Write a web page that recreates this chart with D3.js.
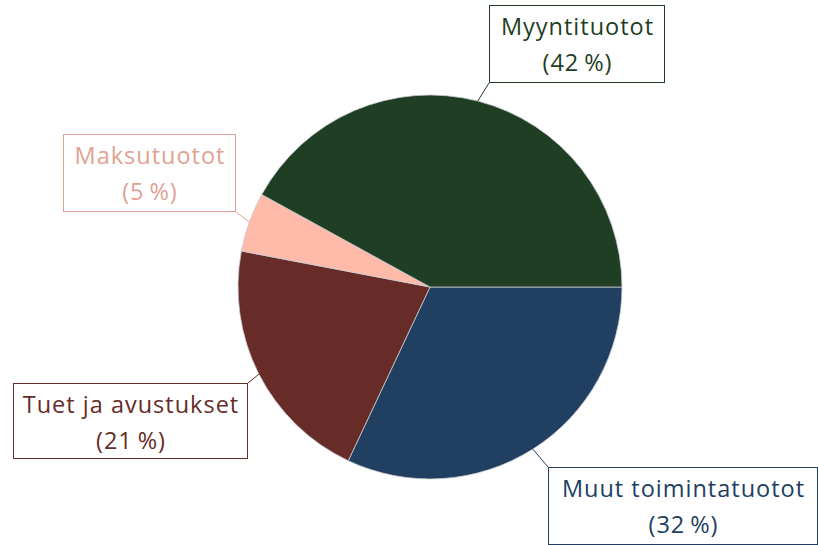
<!DOCTYPE html>
<html lang="fi">
<head>
<meta charset="utf-8">
<title>Tuotot</title>
<script src="https://d3js.org/d3.v7.min.js"></script>
<style>
  body { margin: 0; background: #fff; }
  .lbl text { font-family: "Open Sans", "Liberation Sans", sans-serif; font-size: 23.5px; letter-spacing: 1px; }
</style>
</head>
<body>
<script>
// data, clockwise from 3 o'clock
const categories = ["Muut toimintatuotot", "Tuet ja avustukset", "Maksutuotot", "Myyntituotot"];
const shares = [32, 21, 5, 42];
const fills = ["#213f61", "#672c28", "#ffbaa9", "#1f3e23"];
const inks = ["#213f61", "#672c28", "#e0a292", "#1f3e23"];

// label boxes: [x, y, w, h]
const boxes = [[548, 467, 270, 78], [13, 383, 235, 76], [63, 134, 173, 78], [489, 5, 176, 78]];

const width = 818, height = 545;
const cx = 430, cy = 287, r = 192;

const svg = d3.select("body").append("svg")
    .attr("width", width)
    .attr("height", height);

const pie = d3.pie().sort(null).value(d => d)
    .startAngle(Math.PI / 2)
    .endAngle(Math.PI / 2 + 2 * Math.PI);
const arcs = pie(shares);
const arc = d3.arc().innerRadius(0).outerRadius(r);

const g = svg.append("g").attr("transform", `translate(${cx},${cy})`);
g.selectAll("path")
    .data(arcs)
    .enter()
    .append("path")
    .attr("d", arc)
    .attr("fill", (d, i) => fills[i])
    .attr("stroke", "#c8ccd0")
    .attr("stroke-width", 0.8);

// leader lines
arcs.forEach((d, i) => {
    const a = (d.startAngle + d.endAngle) / 2;
    const px = cx + r * Math.sin(a), py = cy - r * Math.cos(a);
    const [bx, by, bw, bh] = boxes[i];
    const ex = Math.abs(px - bx) < Math.abs(px - (bx + bw)) ? bx : bx + bw;
    const ey = Math.abs(py - by) < Math.abs(py - (by + bh)) ? by : by + bh;
    svg.append("line")
        .attr("x1", px).attr("y1", py)
        .attr("x2", ex).attr("y2", ey)
        .attr("stroke", inks[i])
        .attr("stroke-width", 1);
});

const lbl = svg.selectAll("g.lbl")
    .data(categories)
    .enter()
    .append("g")
    .attr("class", "lbl");

lbl.append("rect")
    .attr("x", (d, i) => boxes[i][0] + 0.5)
    .attr("y", (d, i) => boxes[i][1] + 0.5)
    .attr("width", (d, i) => boxes[i][2] - 1)
    .attr("height", (d, i) => boxes[i][3] - 1)
    .attr("fill", "#fff")
    .attr("stroke", (d, i) => inks[i])
    .attr("stroke-width", 1);

lbl.append("text")
    .attr("x", (d, i) => boxes[i][0] + boxes[i][2] / 2 + 0.5)
    .attr("y", (d, i) => boxes[i][1] + 30)
    .attr("text-anchor", "middle")
    .attr("fill", (d, i) => inks[i])
    .text(d => d);

lbl.append("text")
    .attr("x", (d, i) => boxes[i][0] + boxes[i][2] / 2 + 0.5)
    .attr("y", (d, i) => boxes[i][1] + 66)
    .attr("text-anchor", "middle")
    .attr("fill", (d, i) => inks[i])
    .text((d, i) => "(" + shares[i] + "\u2009%)");
</script>
</body>
</html>
